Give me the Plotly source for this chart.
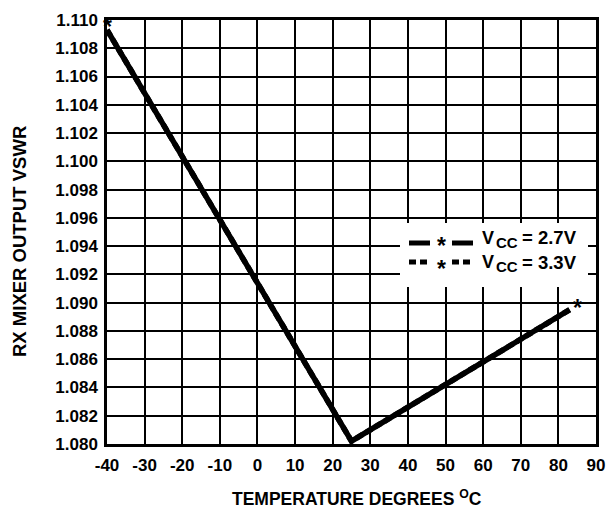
import plotly.graph_objects as go

# ---- data ----
temperature = [-40, 25, 83]
vswr_2v7 = [1.1093, 1.0802, 1.0895]
vswr_3v3 = [1.1093, 1.0802, 1.0895]
series_names = ["2.7V", "3.3V"]
x_ticks = list(range(-40, 91, 10))
y_ticks = [round(1.080 + 0.002 * i, 3) for i in range(16)]

W, H = 609, 508
L, R, T, B = 107, 13, 20, 64
FONT = "Liberation Sans, Arial, sans-serif"
STAR = 23


def px_x(px):
    return (px - L) / (W - L - R)


def px_y(py):
    return (H - B - py) / (H - T - B)


fig = go.Figure()
fig.add_trace(go.Scatter(x=temperature, y=vswr_3v3, mode="lines", name=series_names[1],
                         line=dict(color="black", width=5.5, dash="7px,4px"), showlegend=False))
fig.add_trace(go.Scatter(x=temperature, y=vswr_2v7, mode="lines", name=series_names[0],
                         line=dict(color="black", width=5.5), showlegend=False))

annotations = []
shapes = []
# star markers at the curve ends
annotations.append(dict(x=temperature[0], y=vswr_2v7[0], xref="x", yref="y", text="*",
                        showarrow=False, xanchor="center", yanchor="middle", xshift=0, yshift=3,
                        font=dict(family=FONT, size=STAR, color="black", weight="bold")))
annotations.append(dict(x=temperature[-1], y=vswr_2v7[-1], xref="x", yref="y", text="*",
                        showarrow=False, xanchor="center", yanchor="middle", xshift=8, yshift=2,
                        font=dict(family=FONT, size=STAR, color="black", weight="bold")))

# custom legend
shapes.append(dict(type="rect", xref="paper", yref="paper", x0=px_x(400), x1=px_x(588),
                   y0=px_y(287), y1=px_y(223), fillcolor="white", line=dict(width=0), layer="above"))
rows = [(243, 240, 238, series_names[0], "solid"), (262, 263, 262, series_names[1], "7px,4px")]
for line_y, star_y, text_y, label, dash in rows:
    for x0, x1 in [(409, 430), (452, 473)]:
        shapes.append(dict(type="line", xref="paper", yref="paper", x0=px_x(x0), x1=px_x(x1),
                           y0=px_y(line_y), y1=px_y(line_y), layer="above",
                           line=dict(color="black", width=5, dash=dash)))
    annotations.append(dict(x=px_x(441), y=px_y(star_y), xref="paper", yref="paper", text="*",
                            showarrow=False, xanchor="center", yanchor="middle", yshift=-5.5,
                            font=dict(family=FONT, size=STAR, color="black", weight="bold")))
    annotations.append(dict(x=px_x(482), y=px_y(text_y), xref="paper", yref="paper", text="V",
                            showarrow=False, xanchor="left", yanchor="middle", xshift=-2,
                            font=dict(family=FONT, size=18, color="black", weight="bold")))
    annotations.append(dict(x=px_x(496), y=px_y(text_y + 4), xref="paper", yref="paper", text="CC",
                            showarrow=False, xanchor="left", yanchor="middle", xshift=-2,
                            font=dict(family=FONT, size=15, color="black", weight="bold")))
    annotations.append(dict(x=px_x(522), y=px_y(text_y), xref="paper", yref="paper", text="= " + label,
                            showarrow=False, xanchor="left", yanchor="middle", xshift=-2,
                            font=dict(family=FONT, size=18.5, color="black", weight="bold")))

# axis titles
annotations.append(dict(x=px_x(357), y=px_y(498), xref="paper", yref="paper",
                        text="TEMPERATURE DEGREES <sup>O</sup>C", showarrow=False,
                        xanchor="center", yanchor="middle",
                        font=dict(family=FONT, size=17.5, color="black", weight="bold")))
annotations.append(dict(x=px_x(19), y=px_y(242), xref="paper", yref="paper",
                        text="RX MIXER OUTPUT VSWR", showarrow=False, textangle=-90,
                        xanchor="center", yanchor="middle",
                        font=dict(family=FONT, size=18.5, color="black", weight="bold")))

axis_common = dict(showgrid=True, gridcolor="black", gridwidth=1.5, zeroline=False,
                   showline=True, linecolor="black", linewidth=2.5, mirror=True,
                   ticks="", tickfont=dict(family=FONT, size=17, color="black", weight="bold"))

fig.update_layout(
    width=W, height=H, margin=dict(l=L, r=R, t=T, b=B, autoexpand=False),
    paper_bgcolor="white", plot_bgcolor="white", showlegend=False,
    xaxis=dict(range=[-40, 90], tickmode="array", tickvals=x_ticks,
               ticktext=[str(v) for v in x_ticks], ticklabelstandoff=4, **axis_common),
    yaxis=dict(range=[1.080, 1.110], tickmode="array", tickvals=y_ticks,
               ticktext=[f"{v:.3f}" for v in y_ticks], ticklabelstandoff=3, **axis_common),
    annotations=annotations, shapes=shapes,
)

fig.write_html("out.html", config={"displayModeBar": False},
               post_script="document.body.style.margin='0';document.body.style.overflow='hidden';")
